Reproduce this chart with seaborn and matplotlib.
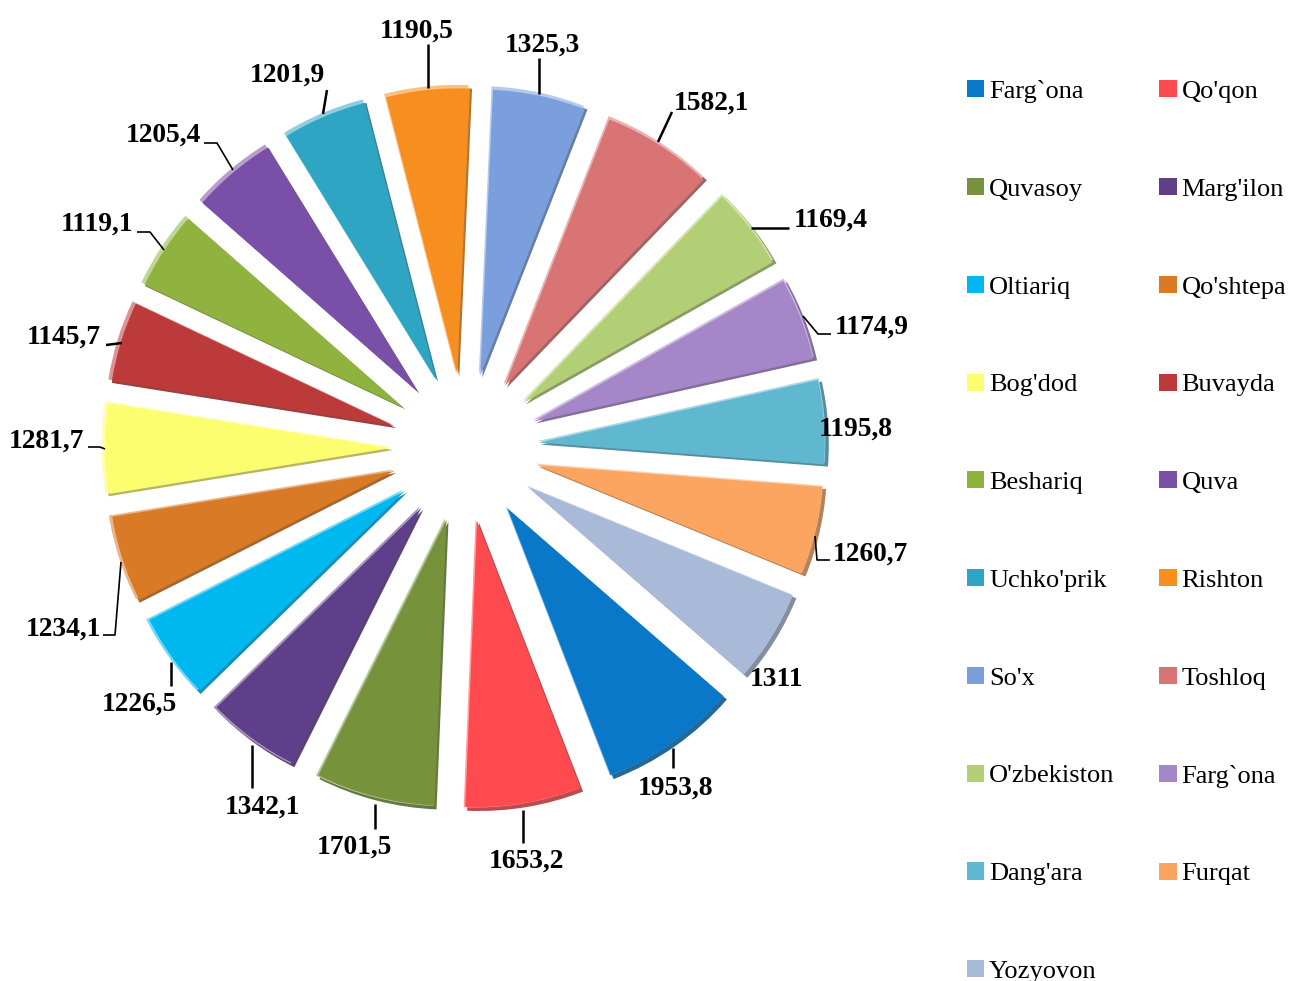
import matplotlib
matplotlib.use("Agg")
import matplotlib.pyplot as plt
import seaborn as sns
import numpy as np

regions = ["Farg`ona", "Qo'qon", "Quvasoy", "Marg'ilon", "Oltiariq", "Qo'shtepa", "Bog'dod",
           "Buvayda", "Beshariq", "Quva", "Uchko'prik", "Rishton", "So'x", "Toshloq",
           "O'zbekiston", "Farg`ona", "Dang'ara", "Furqat", "Yozyovon"]
values = [1953.8, 1653.2, 1701.5, 1342.1, 1226.5, 1234.1, 1281.7, 1145.7, 1119.1, 1205.4,
          1201.9, 1190.5, 1325.3, 1582.1, 1169.4, 1174.9, 1195.8, 1260.7, 1311]
value_labels = ["1953,8", "1653,2", "1701,5", "1342,1", "1226,5", "1234,1", "1281,7", "1145,7",
                "1119,1", "1205,4", "1201,9", "1190,5", "1325,3", "1582,1", "1169,4", "1174,9",
                "1195,8", "1260,7", "1311"]
hex_colors = ["#0a78c8", "#ff4b4f", "#76933c", "#5f3f8a", "#00b8f0", "#d97a26", "#fdfd70",
              "#bd3a3a", "#8fb33e", "#7a4fa8", "#2fa5c4", "#f68f1f", "#7a9fdc", "#d87474",
              "#b3cf75", "#a586c8", "#5fb8cf", "#fba561", "#a9bad8"]

# layout in picture pixels, y from the top
W, H = 1289, 981
label_pos = [(676, 788), (526, 861), (354, 847), (262, 807), (139, 704), (63, 629), (46, 441),
             (64, 337), (97, 224), (163, 135), (287, 75), (417, 31), (542, 45), (711, 103),
             (831, 220), (872, 327), (856, 429), (870, 554), (776, 680)]
leaders = [[(673, 748), (673, 768)], [(523, 810), (523, 843)], [(375, 804), (375, 829)],
           [(252, 745), (252, 788)], [(171, 662), (171, 686)],
           [(121, 562), (115, 635), (103, 635)], [(105, 449), (100, 447), (88, 447)],
           [(122, 343), (106, 345)], [(164, 250), (150, 232), (137, 232)],
           [(233, 170), (217, 143), (204, 143)], [(323, 114), (327, 90)], [(428, 88), (428, 44)],
           [(539, 94), (539, 58)], [(658, 142), (672, 112)], [(751, 228), (789, 228)],
           [(803, 316), (818, 334), (831, 334)], [],
           [(815, 536), (817, 560), (830, 560)], []]
cx, cy = 465, 448
radius = 288
gap = 74

sns.set_theme(style="white")
plt.rcParams["font.family"] = ["Liberation Serif", "DejaVu Serif"]
palette = np.array(sns.color_palette(hex_colors))

fig = plt.figure(figsize=(W / 100, H / 100), dpi=100)
ax = fig.add_axes([0, 0, 1, 1])


def draw_pie(r, dx, dy, colors):
    wedges, _ = ax.pie(values, colors=[tuple(c) for c in colors], startangle=-41, counterclock=False,
                       explode=[gap] * len(values), radius=r,
                       center=(cx + dx, H - cy + dy), frame=True,
                       wedgeprops={"linewidth": 0})
    return wedges


# shifted passes give the bevelled look of the slices
draw_pie(radius, 2, -2, palette * 0.6 + 0.12)
draw_pie(radius, -1.5, 1.5, palette * 0.55 + 0.45)
wedges = draw_pie(radius - 2, 0, 0, palette)

ax.set_xlim(0, W)
ax.set_ylim(0, H)
ax.set_aspect("equal")
ax.axis("off")

for label, (x, y), line in zip(value_labels, label_pos, leaders):
    if line:
        pts = np.array(line)
        ax.plot(pts[:, 0], H - pts[:, 1], color="black", lw=1.8 if len(line) == 2 else 1.2,
                solid_capstyle="butt", zorder=3)
    ax.text(x, H - y, label, ha="center", va="center", fontsize=19.8, fontweight="bold",
            color="black", zorder=4)

# legend runs row by row in the picture, matplotlib fills by column
order = list(range(0, len(regions), 2)) + list(range(1, len(regions), 2))
fig.legend([wedges[i] for i in order], [regions[i] for i in order], ncol=2, loc="upper left",
           bbox_to_anchor=(967 / W, 1 - 80 / H), frameon=False, fontsize=19, borderpad=0,
           borderaxespad=0, handlelength=0.66, handleheight=0.62, handletextpad=0.18,
           labelspacing=2.84, columnspacing=1.7, labelcolor="black")

fig.savefig("out.png", dpi=100)
